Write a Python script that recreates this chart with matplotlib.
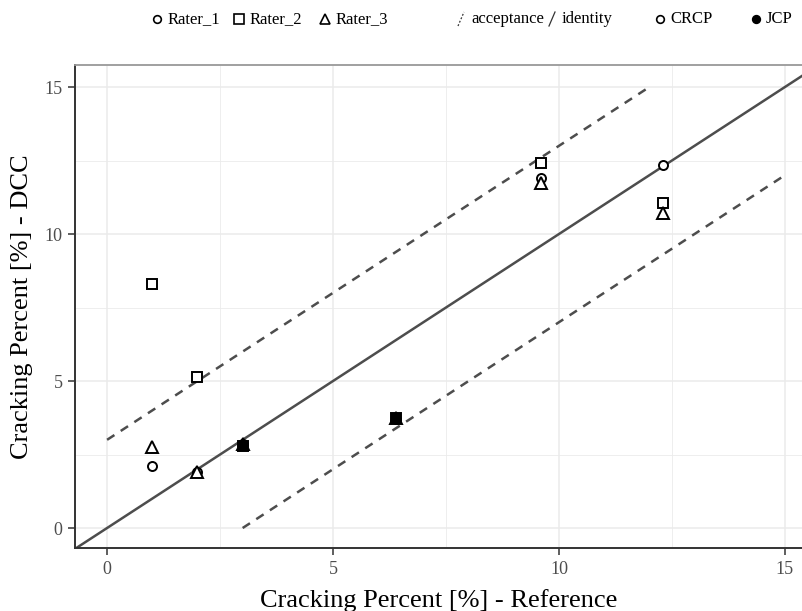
import numpy as np
import matplotlib
matplotlib.use("Agg")
from matplotlib import pyplot as plt
from matplotlib.lines import Line2D

# dane
ref_crcp = [1.0, 2.0, 9.6, 12.3]
rater1_crcp = [2.1, 1.9, 11.9, 12.35]
rater2_crcp = [8.3, 5.15, 12.4, 11.05]
rater3_crcp = [2.75, 1.9, 11.75, 10.7]

ref_jcp = [3.0, 6.4]
rater1_jcp = [2.85, 3.7]
rater2_jcp = [2.8, 3.75]
rater3_jcp = [2.85, 3.75]

accept_upper_x = [0, 12]
accept_upper_y = [3, 15]
accept_lower_x = [3, 15]
accept_lower_y = [0, 12]

rater_names = ["Rater_1", "Rater_2", "Rater_3"]
line_names = ["acceptance", "identity"]
type_names = ["CRCP", "JCP"]

plt.rcParams['font.family'] = ['Liberation Serif', 'DejaVu Serif']

W, H = 803, 611
fig = plt.figure(figsize=(W/100, H/100), dpi=100)
ax = fig.add_axes([75/W, (H-548)/H, (812-75)/W, (548-65)/H])

dark = "#333333"
line_c = "#4d4d4d"
dash = (0, (3.5, 3))

# linie
ax.axline((0, 0), slope=1, color=line_c, lw=1.8, zorder=2)
ax.plot(accept_upper_x, accept_upper_y, color=line_c, lw=1.8, ls=dash, zorder=2)
ax.plot(accept_lower_x, accept_lower_y, color=line_c, lw=1.8, ls=dash, zorder=2)

# punkty
markers = ["o", "s", "^"]
sizes = [6.5, 7.5, 8.5]
crcp = [rater1_crcp, rater2_crcp, rater3_crcp]
jcp = [rater1_jcp, rater2_jcp, rater3_jcp]
for m, s, yc, yj in zip(markers, sizes, crcp, jcp):
    ax.plot(ref_crcp, yc, ls="none", marker=m, ms=s, mfc="white", mec="black", mew=1.4, zorder=3)
    ax.plot(ref_jcp, yj, ls="none", marker=m, ms=s, mfc="black", mec="black", mew=1.4, zorder=3)

ax.set_xlim(-0.71, 15.6)
ax.set_ylim(-0.68, 15.75)
ax.set_xticks([0, 5, 10, 15])
ax.set_yticks([0, 5, 10, 15])
ax.set_xticks([2.5, 7.5, 12.5], minor=True)
ax.set_yticks([2.5, 7.5, 12.5], minor=True)
ax.grid(True, which="major", color="#ebebeb", lw=1.1, zorder=0)
ax.grid(True, which="minor", color="#ebebeb", lw=0.6, zorder=0)
ax.set_axisbelow(True)
ax.tick_params(which="minor", length=0)
ax.tick_params(which="major", length=5, width=1.1, color=dark,
               labelsize=13, labelcolor="#4d4d4d", pad=4)

ax.spines["right"].set_visible(False)
ax.spines["top"].set_color("#999999")
ax.spines["top"].set_linewidth(1.3)
for s in ["left", "bottom"]:
    ax.spines[s].set_color(dark)
    ax.spines[s].set_linewidth(1.4)

ax.set_xlabel("Cracking Percent [%] - Reference", fontsize=19, color="black")
ax.xaxis.label.set_va("baseline")
ax.xaxis.set_label_coords((439-75)/737, (548-607)/483)
ax.set_ylabel("Cracking Percent [%] - DCC", fontsize=19, color="black")
ax.yaxis.label.set_va("center")
ax.yaxis.set_label_coords((22-75)/737, 0.5)

# legenda u góry (ręcznie rozmieszczona)
ly = 1 - 19/H
fs = 12


def key_marker(px, m, ms, fill):
    fig.add_artist(Line2D([px/W], [ly], ls="none", marker=m, ms=ms, mfc=fill,
                          mec="black", mew=1.2, transform=fig.transFigure))


def key_slash(px, ls):
    fig.add_artist(Line2D([(px-3)/W, (px+3)/W], [ly-7/H, ly+7/H], color="#333333",
                          lw=0.9, ls=ls, transform=fig.transFigure))


def key_text(px, t):
    fig.text(px/W, ly, t, fontsize=fs, ha="left", va="center")


for px, m, ms, t in zip([157, 239, 325], markers, [5.5, 6.5, 7.5], rater_names):
    key_marker(px, m, ms, "white")
    key_text(px + 11, t)

for px, ls, t in zip([461, 552], [(0, (1.5, 1.5)), "-"], line_names):
    key_slash(px, ls)
    key_text(px + 10, t)

for px, fill, t in zip([660, 756], ["white", "black"], type_names):
    key_marker(px, "o", 5.5, fill)
    key_text(px + 10, t)

fig.savefig("out.png", dpi=100)
